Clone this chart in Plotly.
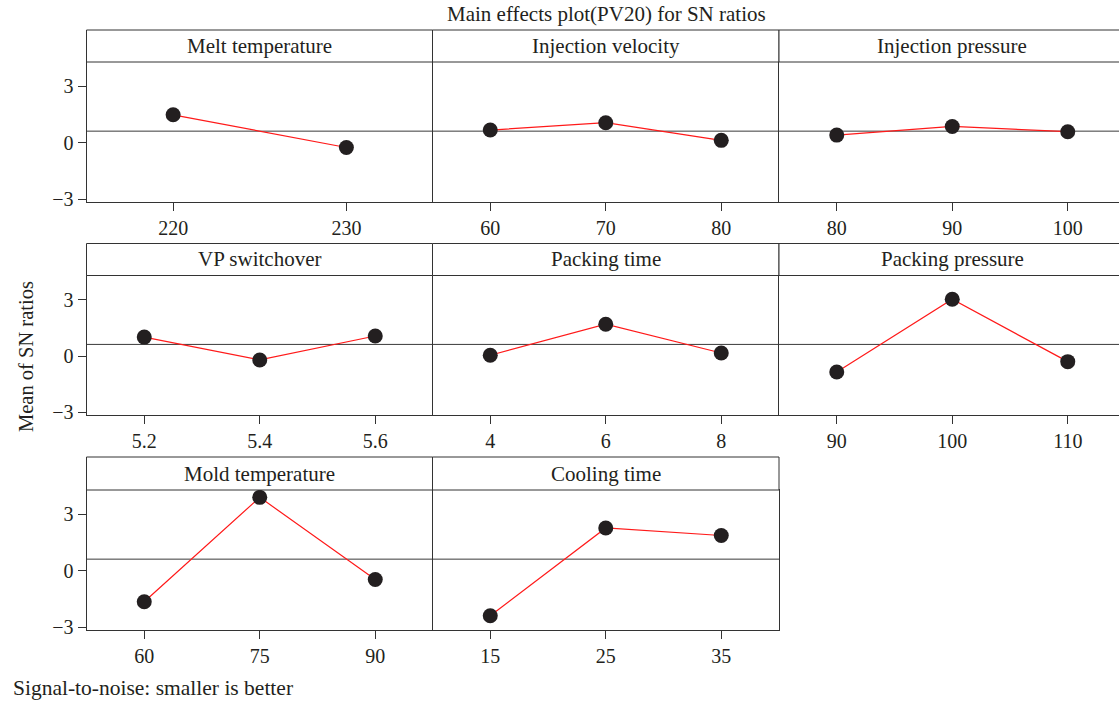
import plotly.graph_objects as go

# ---------------- data ----------------
factors = ["Melt temperature", "Injection velocity", "Injection pressure",
           "VP switchover", "Packing time", "Packing pressure",
           "Mold temperature", "Cooling time"]

melt_levels = ["220", "230"]
melt_sn = [1.49, -0.25]
velocity_levels = ["60", "70", "80"]
velocity_sn = [0.68, 1.07, 0.13]
injpress_levels = ["80", "90", "100"]
injpress_sn = [0.41, 0.87, 0.59]
vp_levels = ["5.2", "5.4", "5.6"]
vp_sn = [1.01, -0.21, 1.07]
packtime_levels = ["4", "6", "8"]
packtime_sn = [0.04, 1.70, 0.16]
packpress_levels = ["90", "100", "110"]
packpress_sn = [-0.85, 3.03, -0.30]
mold_levels = ["60", "75", "90"]
mold_sn = [-1.65, 3.91, -0.46]
cooling_levels = ["15", "25", "35"]
cooling_sn = [-2.39, 2.28, 1.88]

grand_mean = 0.62
y_ticks = [-3, 0, 3]

main_title = "Main effects plot(PV20) for SN ratios"
y_title = "Mean of SN ratios"
footer = "Signal-to-noise: smaller is better"

levels = [melt_levels, velocity_levels, injpress_levels, vp_levels,
          packtime_levels, packpress_levels, mold_levels, cooling_levels]
values = [melt_sn, velocity_sn, injpress_sn, vp_sn,
          packtime_sn, packpress_sn, mold_sn, cooling_sn]

# ---------------- layout geometry ----------------
W, H = 1119, 703
H_EFF = 695          # drawing height observed in the rendered page
col_px = [(86.5, 432.5), (432.5, 779.0), (779.0, 1119.0)]
full_col_w = 346.5
plot_px = [(62, 202), (275.5, 415), (490, 630)]
strip_px = [(30, 62), (243.5, 275.5), (457, 490)]
y_range = [-3.15, 4.30]

INK = "#231f20"
LINE = "#333333"
FONT = "Liberation Serif"


def px_x(p):
    return p / W


def px_y(p):
    return 1 - p / H_EFF


fig = go.Figure()
layout = dict(
    width=W, height=H,
    margin=dict(l=0, r=0, t=0, b=0),
    paper_bgcolor="white", plot_bgcolor="white",
    showlegend=False,
    font=dict(family=FONT, color=INK, size=20),
)
shapes = []
annotations = []
n_panels = len(factors)

for i, (name, lv, vals) in enumerate(zip(factors, levels, values)):
    r, c = divmod(i, 3)
    n = i + 1
    xa = "x" if n == 1 else f"x{n}"
    ya = "y" if n == 1 else f"y{n}"
    xkey = "xaxis" if n == 1 else f"xaxis{n}"
    ykey = "yaxis" if n == 1 else f"yaxis{n}"

    x0p, x1p = col_px[c]
    nlev = len(lv)
    frac = (x1p - x0p) / full_col_w
    xr = [-0.5, -0.5 + nlev * frac]

    # right border only needed when no panel follows in the row (and not clipped)
    last_in_row = (c == 1 and i == n_panels - 1)

    fig.add_trace(go.Scatter(
        x=lv, y=vals, xaxis=xa, yaxis=ya,
        mode="lines+markers",
        line=dict(color="#ff1a1a", width=1.2),
        marker=dict(color=INK, size=15),
        hoverinfo="skip",
    ))

    layout[xkey] = dict(
        domain=[px_x(x0p), px_x(x1p)],
        anchor=ya, type="category", range=xr,
        showgrid=False, zeroline=False,
        showline=True, mirror=True, linecolor=LINE, linewidth=1,
        ticks="outside", ticklen=8, tickcolor=LINE, tickwidth=1,
        tickfont=dict(family=FONT, size=20, color=INK),
        fixedrange=True,
    )
    yax = dict(
        domain=[px_y(plot_px[r][1]), px_y(plot_px[r][0])],
        anchor=xa, range=y_range,
        showgrid=False, zeroline=False,
        showline=True, mirror=last_in_row, linecolor=LINE, linewidth=1,
        tickvals=y_ticks,
        fixedrange=True,
    )
    if c == 0:
        yax.update(ticks="outside", ticklen=8, tickcolor=LINE, tickwidth=1,
                   showticklabels=True,
                   tickfont=dict(family=FONT, size=20, color=INK))
    else:
        yax.update(ticks="", showticklabels=False)
    layout[ykey] = yax

    # grand-mean reference line
    shapes.append(dict(type="line", xref=f"{xa} domain", yref=ya,
                       x0=0, x1=1, y0=grand_mean, y1=grand_mean,
                       line=dict(color="#3a3a3a", width=1), layer="below"))

    # strip (panel title box)
    s0, s1 = strip_px[r]
    shapes.append(dict(type="rect", xref="paper", yref="paper",
                       x0=px_x(x0p), x1=px_x(x1p) + (0.01 if c == 2 else 0),
                       y0=px_y(s1), y1=px_y(s0),
                       line=dict(color=LINE, width=1), fillcolor="white"))
    annotations.append(dict(text=name, xref="paper", yref="paper",
                            x=px_x(x0p + full_col_w / 2), y=px_y((s0 + s1) / 2),
                            xanchor="center", yanchor="middle", showarrow=False,
                            font=dict(family=FONT, size=21, color=INK)))

annotations.append(dict(text=main_title, xref="paper", yref="paper",
                        x=px_x(606), y=px_y(14), xanchor="center", yanchor="middle",
                        showarrow=False, font=dict(family=FONT, size=21, color=INK)))
annotations.append(dict(text=y_title, xref="paper", yref="paper",
                        x=px_x(26), y=px_y(357), xanchor="center", yanchor="middle",
                        textangle=-90, showarrow=False,
                        font=dict(family=FONT, size=20.5, color=INK)))
annotations.append(dict(text=footer, xref="paper", yref="paper",
                        x=px_x(11), y=px_y(688), xanchor="left", yanchor="middle",
                        showarrow=False, font=dict(family=FONT, size=21.5, color=INK)))

layout["shapes"] = shapes
layout["annotations"] = annotations
fig.update_layout(**layout)

fig.write_html("out.html", config={"displayModeBar": False},
               post_script="document.body.style.margin='0';")
